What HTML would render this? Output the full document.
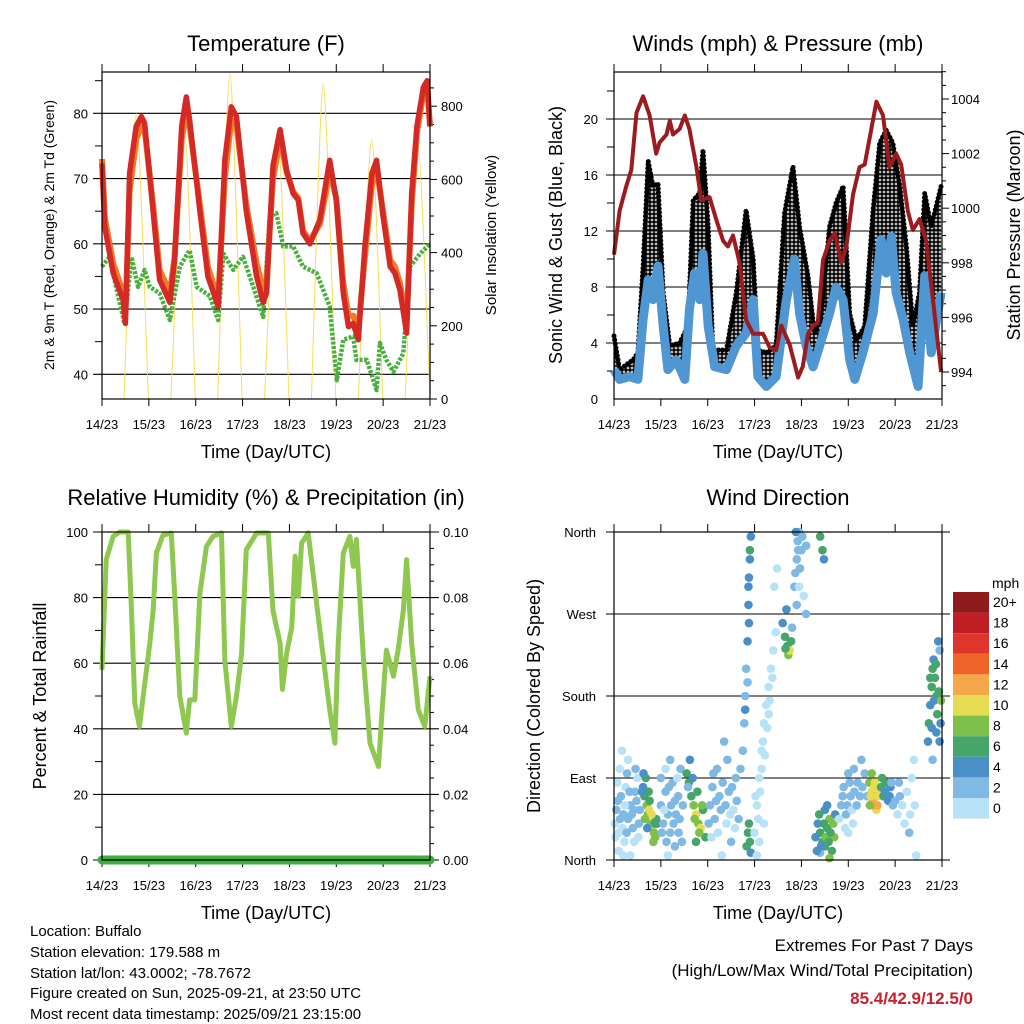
<!DOCTYPE html>
<html><head><meta charset="utf-8"><style>
html,body{margin:0;padding:0;background:#fff;}
svg{display:block;font-family:"Liberation Sans",sans-serif;}
</style></head><body>
<svg id="chart" width="1024" height="1024" viewBox="0 0 1024 1024">
<defs><pattern id="gustdots" width="4" height="4" patternUnits="userSpaceOnUse"><circle cx="2" cy="2" r="1.9" fill="#000"/></pattern></defs>
<text x="266" y="51" font-size="22" text-anchor="middle">Temperature (F)</text>
<text x="778" y="51" font-size="22" text-anchor="middle">Winds (mph) &amp; Pressure (mb)</text>
<text x="266" y="505" font-size="22" text-anchor="middle">Relative Humidity (%) &amp; Precipitation (in)</text>
<text x="778" y="505" font-size="22" text-anchor="middle">Wind Direction</text>
<text x="266" y="458" font-size="18" text-anchor="middle">Time (Day/UTC)</text>
<text x="778" y="458" font-size="18" text-anchor="middle">Time (Day/UTC)</text>
<text x="266" y="919" font-size="18" text-anchor="middle">Time (Day/UTC)</text>
<text x="778" y="919" font-size="18" text-anchor="middle">Time (Day/UTC)</text>
<text transform="translate(54,235) rotate(-90)" font-size="14" text-anchor="middle">2m &amp; 9m T (Red, Orange) &amp; 2m Td (Green)</text>
<text transform="translate(496,235) rotate(-90)" font-size="15" text-anchor="middle">Solar Insolation (Yellow)</text>
<text transform="translate(562,235) rotate(-90)" font-size="18" text-anchor="middle">Sonic Wind &amp; Gust (Blue, Black)</text>
<text transform="translate(1020,235) rotate(-90)" font-size="18" text-anchor="middle">Station Pressure (Maroon)</text>
<text transform="translate(46,696) rotate(-90)" font-size="18" text-anchor="middle">Percent &amp; Total Rainfall</text>
<text transform="translate(540,696) rotate(-90)" font-size="18" text-anchor="middle">Direction (Colored By Speed)</text>
<g font-size="15">
<text x="30" y="936">Location: Buffalo</text>
<text x="30" y="957">Station elevation: 179.588 m</text>
<text x="30" y="978">Station lat/lon: 43.0002; -78.7672</text>
<text x="30" y="998">Figure created on Sun, 2025-09-21, at 23:50 UTC</text>
<text x="30" y="1019">Most recent data timestamp: 2025/09/21 23:15:00</text>
</g>
<text x="973" y="951" font-size="17" text-anchor="end">Extremes For Past 7 Days</text>
<text x="973" y="976" font-size="17" text-anchor="end">(High/Low/Max Wind/Total Precipitation)</text>
<text x="973" y="1004" font-size="17" font-weight="bold" fill="#c8202a" text-anchor="end">85.4/42.9/12.5/0</text>
<text x="992" y="588" font-size="14">mph</text>
</svg>
<script>
// ---------- data ----------
const dayLabels=["14/23","15/23","16/23","17/23","18/23","19/23","20/23","21/23"];
const redT=[0,0.06,0.24,0.45,0.5,0.59,0.73,0.84,0.91,1.09,1.23,1.45,1.55,1.7,1.8,1.87,2.09,2.26,2.48,2.62,2.76,2.87,3.08,3.3,3.44,3.51,3.65,3.8,3.94,4.08,4.19,4.29,4.44,4.65,4.86,5.0,5.15,5.26,5.36,5.47,5.61,5.76,5.86,6.0,6.15,6.25,6.36,6.5,6.61,6.72,6.86,6.94,7.0];
const redTemp=[72.3,62.6,55.5,51.4,47.8,70.8,78,79.5,78.5,65,54.5,51,57.5,78,82.5,79,65,55,50.4,72.8,81,79.5,65,55,51,52.5,72,77.5,71.3,67.7,66.7,61.6,60,63.7,72.8,66.7,52.4,47.3,47.8,45.3,59.6,70.8,72.8,64.2,56.5,55.5,52.9,46.3,67.7,78,84,85,78];
const orangeTemp=[73,64,57,52.5,49,68,76,78,77.5,66,56,52.5,58,76,80,78,66,56.5,51.5,70,79,78,66,57,53,54,70,76,71,68,67,62,60.5,63,71,67,54,49,49,47,58,69,71.5,65,57.5,56.5,54,48,66,77,83,84,78];
const dewT=[0,0.16,0.3,0.48,0.63,0.77,0.91,1.02,1.23,1.45,1.66,1.87,2.02,2.3,2.48,2.59,2.8,3.01,3.23,3.44,3.58,3.72,3.87,4.08,4.29,4.58,4.86,5.01,5.15,5.36,5.43,5.65,5.86,5.93,6.07,6.22,6.43,6.57,6.79,7];
const dewTemp=[56.5,58,53.4,47.8,58,53.4,56,53.4,52.4,48.3,56.5,59,53.4,52,48.3,58.5,56,58,53.4,48.8,64.2,64.7,59.6,59.6,56.5,55.5,50.4,39.1,45.3,45.8,42.2,42.2,37.6,44.8,42.2,40.4,43.2,56.5,58.5,60];
const solarRise=[0.47,1.47,2.47,3.47,4.47,5.47,6.47];
const solarPeakT=[0.73,1.77,2.73,3.76,4.72,5.76,6.75];
const solarPeak=[780,725,890,715,860,710,680];
const solarSet=[0.99,1.99,2.99,3.99,4.99,5.99,7.0];
const tempTicks=[40,50,60,70,80];
const solarTicks=[0,200,400,600,800];

const windT=[0,0.12,0.33,0.51,0.62,0.73,0.83,0.94,1.05,1.15,1.33,1.51,1.61,1.72,1.83,1.9,2.01,2.15,2.4,2.61,2.82,2.97,3.07,3.25,3.46,3.68,3.85,3.96,4.1,4.25,4.39,4.6,4.74,4.89,5.03,5.14,5.31,5.53,5.7,5.81,5.92,6.02,6.17,6.31,6.49,6.63,6.77,6.98];
const windSpeed=[2.1,1.4,1.6,1.4,5.7,8.5,7.1,9.5,5.2,2.1,2.8,1.4,6.4,9,7.1,10.4,5.2,2.3,2.1,3.8,4.7,7.1,1.6,0.9,1.6,7.1,10,6.1,3.8,2.3,3.8,6.1,8,7.1,2.8,1.4,3.3,6.1,11.4,9,11.6,7.6,5.7,3.3,0.9,8.8,3.3,7.6];
const gustT=[0,0.12,0.41,0.51,0.62,0.73,0.83,0.94,1.05,1.19,1.4,1.58,1.69,1.83,1.9,2.01,2.11,2.4,2.61,2.82,2.97,3.07,3.25,3.46,3.64,3.82,3.96,4.14,4.28,4.42,4.6,4.74,4.89,5.03,5.17,5.35,5.53,5.67,5.81,5.95,6.1,6.24,6.38,6.52,6.63,6.77,6.98];
const gustSpeed=[4.5,2.1,2.8,3.3,9.5,17,15.2,15.4,7.6,3.8,4,5.2,14.2,14.7,17.8,12.3,3.5,3.5,7.6,13.5,10,3.5,3.3,3.8,13.3,16.6,12.3,8.8,4.7,5.7,12.3,14,15.2,6.1,4.2,5.2,13.5,18.3,19.2,18.3,15.2,10.9,5.2,7.6,14.7,12.3,15.2];
const presT=[0,0.12,0.26,0.37,0.48,0.62,0.76,0.9,0.97,1.12,1.19,1.26,1.4,1.51,1.61,1.76,1.86,2.04,2.18,2.33,2.43,2.54,2.68,2.82,2.97,3.18,3.32,3.46,3.57,3.75,3.93,4.03,4.14,4.25,4.35,4.46,4.6,4.71,4.85,4.96,5.1,5.24,5.35,5.46,5.6,5.74,5.88,6.02,6.13,6.27,6.38,6.52,6.66,6.81,6.98];
const presMb=[998.3,999.9,1000.8,1001.4,1003.5,1004.1,1003.4,1002,1002.4,1002.7,1003.2,1002.7,1002.9,1003.4,1002.9,1001.5,1000.3,1000.4,999.6,998.8,998.6,999,998,995.9,995.4,995.4,994.9,994.8,995.7,995,993.8,994.2,995.4,995.7,995.8,998.1,998.8,999.1,998,998.6,1000.5,1001.5,1001.6,1002.6,1003.9,1003.4,1001.5,1002,1001.6,999.9,999.2,999.6,998.8,996.6,994];
const windTicks=[0,4,8,12,16,20];
const presTicks=[994,996,998,1000,1002,1004];

const rhT=[0,0.09,0.24,0.38,0.56,0.63,0.7,0.8,0.88,1.02,1.09,1.16,1.3,1.48,1.55,1.66,1.8,1.87,1.98,2.09,2.23,2.37,2.55,2.62,2.76,2.87,2.98,3.08,3.3,3.55,3.65,3.8,3.85,3.94,4.05,4.12,4.19,4.26,4.4,4.58,4.72,4.86,4.97,5.04,5.15,5.29,5.36,5.43,5.58,5.72,5.9,5.97,6.07,6.22,6.32,6.43,6.5,6.61,6.75,6.89,7];
const rhPct=[58,91.6,98.7,100,100,76,47.8,40.7,50,66,76,93.6,99,99.7,81.4,50,38.7,48.8,48.8,81.4,95.6,98.7,99.7,61,40.7,50,63,94.6,99.7,99.7,76,66,52,63,71,92.6,80.4,96.6,99.7,78.3,62,45.8,35.6,66,93.6,98.7,89.5,97.7,61,35.6,28.5,43.7,64,56,64,76,91.6,66,45.8,40.7,56];
const precipT=[0,7];
const precipIn=[0,0];
const rhTicks=[0,20,40,60,80,100];
const precipTicks=["0.00","0.02","0.04","0.06","0.08","0.10"];

const dirLabels=["North","East","South","West","North"];
const dirPoints=[[0.02,40,1],[0.05,55,2],[0.1,30,1],[0.15,70,2],[0.2,50,2],[0.25,80,1],[0.3,45,2],[0.35,60,2],[0.4,35,3],[0.45,75,2],[0.5,90,1],[0.12,100,0],[0.3,110,0],[0.1,10,1],[0.35,5,1],[0.08,65,2],[0.22,20,1],[0.42,55,2],
[0.03,25,0],[0.07,85,1],[0.13,45,2],[0.18,35,0],[0.23,60,1],[0.27,30,2],[0.33,75,3],[0.38,50,2],[0.43,20,1],[0.48,65,2],[0.53,40,3],[0.55,55,2],[0.17,120,0],[0.28,95,2],[0.46,100,3],[0.52,25,1],[0.2,5,0],
[0.62,80,5],[0.65,70,7],[0.7,60,8],[0.72,50,9],[0.75,55,10],[0.78,40,9],[0.82,35,10],[0.85,30,8],[0.88,25,9],[0.9,45,6],[0.68,90,6],[0.76,65,7],[0.8,50,10],[0.6,75,4],[0.92,40,4],
[0.66,45,8],[0.74,75,6],[0.84,20,9],[0.87,40,7],[0.71,35,5],[0.63,95,4],
[1.0,60,2],[1.05,40,3],[1.1,75,2],[1.15,50,3],[1.2,30,2],[1.25,85,2],[1.3,65,3],[1.35,90,1],[1.4,45,2],[1.45,20,3],[1.1,100,1],[1.3,15,2],[1.2,110,2],
[1.02,30,2],[1.07,55,1],[1.12,20,3],[1.17,80,2],[1.22,60,2],[1.27,40,3],[1.32,50,2],[1.37,70,2],[1.42,100,3],[1.47,60,2],[1.0,90,2],[1.15,5,1],[1.38,30,2],
[1.55,95,6],[1.6,85,7],[1.65,70,6],[1.7,60,8],[1.75,50,10],[1.8,40,9],[1.85,35,10],[1.9,55,7],[1.95,25,6],[1.62,110,5],[1.75,20,7],[1.58,80,3],[1.68,90,4],
[1.72,45,9],[1.82,30,8],[1.88,60,9],[1.78,75,6],
[2.05,60,3],[2.1,80,2],[2.15,45,3],[2.2,100,2],[2.25,70,3],[2.35,130,2],[2.4,40,1],[2.5,20,2],[2.6,90,2],[2.3,5,1],[2.45,75,2],[2.55,55,1],
[2.02,40,2],[2.08,25,1],[2.12,95,2],[2.18,65,2],[2.22,30,1],[2.28,55,2],[2.32,85,2],[2.38,60,3],[2.42,110,2],[2.48,50,1],[2.52,80,2],[2.58,35,1],[2.62,65,2],[2.66,45,2],[2.7,100,2],
[2.75,120,3],[2.78,150,3],[2.8,180,2],[2.82,210,3],[2.85,240,4],[2.87,280,4],[2.88,310,4],[2.9,340,6],[2.92,355,5],[2.85,195,3],[2.8,165,4],[2.88,260,4],[2.9,330,4],[2.87,300,4],
[2.83,15,6],[2.86,30,7],[2.88,40,6],[2.9,20,6],[2.92,8,4],
[3.0,30,1],[3.05,60,1],[3.1,90,1],[3.15,120,1],[3.2,150,0],[3.25,170,1],[3.3,190,1],[3.35,210,1],[3.4,230,1],[3.45,250,1],[3.15,100,0],[3.3,160,0],[3.05,5,0],[3.2,40,1],
[3.08,45,0],[3.12,75,0],[3.18,130,1],[3.22,115,0],[3.27,145,0],[3.32,175,1],[3.38,200,0],[3.42,300,1],[3.48,320,0],[3.1,20,0],[3.02,70,1],
[3.6,260,4],[3.65,245,6],[3.7,235,7],[3.72,225,8],[3.75,230,10],[3.78,240,6],[3.8,255,2],[3.68,275,4],[3.66,232,6],
[3.85,300,2],[3.9,330,2],[3.92,350,3],[3.95,360,3],[4.0,340,2],[4.05,290,1],[4.1,270,2],[3.9,280,2],[4.1,345,2],[3.88,360,4],
[3.87,315,2],[3.93,340,2],[3.97,320,3],[4.02,355,2],[3.95,300,1],
[4.4,355,6],[4.45,340,6],[4.48,330,4],
[4.35,40,5],[4.4,30,6],[4.45,20,7],[4.5,15,6],[4.55,35,7],[4.6,45,8],[4.65,10,7],[4.7,25,8],[4.5,55,4],[4.4,8,3],[4.6,2,8],[4.3,25,4],[4.55,60,4],
[4.38,50,6],[4.42,15,5],[4.48,40,7],[4.52,25,8],[4.58,20,6],[4.62,30,7],[4.68,40,8],[4.33,10,4],[4.72,50,4],
[4.85,60,2],[4.9,80,3],[4.95,50,2],[5.0,95,2],[5.05,70,2],[5.1,40,1],[5.2,85,3],[5.0,30,0],
[4.8,45,1],[4.88,70,2],[4.93,35,1],[4.98,60,2],[5.03,85,2],[5.08,55,1],[5.13,75,2],[5.18,60,2],[5.25,70,2],[5.3,80,2],[5.35,95,3],[5.4,70,2],[5.12,100,3],[5.28,110,3],
[5.45,85,9],[5.5,75,11],[5.52,65,12],[5.55,80,10],[5.58,70,13],[5.6,55,11],[5.62,60,12],[5.5,95,8],[5.65,75,10],
[5.48,70,10],[5.54,60,12],[5.57,85,10],[5.63,70,11],[5.46,60,9],
[5.7,80,6],[5.75,70,7],[5.8,85,6],[5.85,65,4],[5.9,80,4],[5.95,60,2],
[5.72,90,7],[5.78,75,4],[5.88,70,4],[5.92,85,3],
[6.05,50,1],[6.1,70,2],[6.2,40,1],[6.3,30,2],[6.35,90,1],[6.4,110,1],[6.45,5,0],
[6.0,65,2],[6.08,85,2],[6.15,60,1],[6.25,75,1],[6.32,50,1],[6.42,60,1],
[6.7,130,4],[6.72,150,6],[6.75,170,5],[6.78,190,6],[6.8,210,7],[6.82,220,5],[6.85,200,6],[6.88,180,7],[6.9,160,6],[6.92,240,4],[6.95,230,3],[6.88,140,4],[6.95,130,4],[6.8,110,3],
[6.75,200,6],[6.83,175,5],[6.87,215,6],[6.93,185,7],[6.98,175,8],[6.78,145,4],[6.97,150,4]];
const speedLabels=["20+","18","16","14","12","10","8","6","4","2","0"];
const speedColors=["#8e1a1a","#be1e24","#e0352a","#ef6429","#f5a84a","#e6dc52","#7fc04a","#45a56a","#4a8fc8","#7fb9e4","#b8e2f8"];

// ---------- helpers ----------
const svg=document.getElementById('chart');
const NS='http://www.w3.org/2000/svg';
function mk(tag,attrs,parent){const e=document.createElementNS(NS,tag);for(const k in attrs)e.setAttribute(k,attrs[k]);(parent||svg).appendChild(e);return e;}
const P1={x0:102,x1:430,y0:72,y1:399},P2={x0:614,x1:942,y0:72,y1:399},P3={x0:102,x1:430,y0:532,y1:860},P4={x0:614,x1:942,y0:532,y1:860};
function xs(p,t){return p.x0+t*(p.x1-p.x0)/7;}
const yTemp=v=>113.3+(80-v)*6.525;
const ySolar=v=>399-v*0.366;
const yWind=v=>399-v*14;
const yPres=v=>99+(1004-v)*27.3;
const yRH=v=>860-v*3.28;
const yPrecip=v=>860-v*3280;
const yDir=v=>860-v*328/360;
function pts(p,ts,vs,fy){return ts.map((t,i)=>xs(p,t).toFixed(1)+','+fy(vs[i]).toFixed(1)).join(' ');}

function frame(p,name){
  const g=mk('g',{});
  
  
  dayLabels.forEach((lab,i)=>{
    const x=xs(p,i);
    const t1=mk('line',{x1:x,x2:x,y1:p.y0-8,y2:p.y0,stroke:'#000','stroke-width':1},g);
    
    
    const t2=mk('line',{x1:x,x2:x,y1:p.y1,y2:p.y1+7,stroke:'#000','stroke-width':1},g);
    
    
    const tx=mk('text',{x:x,y:p.y1+30,'font-size':13,'text-anchor':'middle'},g);
    
    
    tx.textContent=lab;
  });
  return g;
}
function box(p){
  const r=mk('rect',{x:p.x0,y:p.y0,width:p.x1-p.x0,height:p.y1-p.y0,fill:'none',stroke:'#000','stroke-width':1.2});
  
  
}
function grid(p,vals,fy,left,right){
  vals.forEach(v=>{const y=fy(v);
    const l=mk('line',{x1:p.x0-left,x2:p.x1+right,y1:y,y2:y,stroke:'#000','stroke-width':1.1});
    
    });
}
function ticks(p,vals,fy,side,len){
  vals.forEach(v=>{const y=fy(v);const x=side<0?p.x0:p.x1;
    const l=mk('line',{x1:x,x2:x+side*len,y1:y,y2:y,stroke:'#000','stroke-width':1});
    
    });
}
function labels(vals,texts,fy,x,anchor){
  vals.forEach((v,i)=>{const t=mk('text',{x:x,y:fy(v)+5,'font-size':13,'text-anchor':anchor});
    
    
    t.textContent=texts[i];});
}

// ---------- Panel 1: temperature ----------
frame(P1,'temperature-x-axis');
grid(P1,tempTicks,yTemp,9,0);
ticks(P1,[45,55,65,75,85],yTemp,-1,7);
ticks(P1,solarTicks,ySolar,1,7);
ticks(P1,[50,100,150,250,300,350,450,500,550,650,700,750,850],ySolar,1,4);
labels(tempTicks,tempTicks.map(String),yTemp,88,'end');
labels(solarTicks,solarTicks.map(String),ySolar,441,'start');
solarPeak.forEach((pk,i)=>{
  const xr=xs(P1,solarRise[i]),xp=xs(P1,solarPeakT[i]),xe=xs(P1,solarSet[i]),yp=ySolar(pk),y0=ySolar(0);
  const d1=xp-xr,d2=xe-xp,h=y0-yp;
  const s=mk('path',{d:`M${xr},${y0} C${xr+0.45*d1},${y0-0.55*h} ${xp-0.2*d1},${yp} ${xp},${yp} C${xp+0.2*d2},${yp} ${xe-0.45*d2},${y0-0.55*h} ${xe},${y0}`,fill:'none',stroke:'#f7d94a','stroke-width':1,opacity:0.9});
  
  
});
const dew=mk('polyline',{points:pts(P1,dewT,dewTemp,yTemp),fill:'none',stroke:'#4cb040','stroke-width':4.5,'stroke-dasharray':'3 1.5','stroke-linejoin':'round'});


const org=mk('polyline',{points:pts(P1,redT,orangeTemp,yTemp),fill:'none',stroke:'#f07a2a','stroke-width':6,'stroke-linejoin':'round'});


const red=mk('polyline',{points:pts(P1,redT,redTemp,yTemp),fill:'none',stroke:'#d42a26','stroke-width':5.5,'stroke-linejoin':'round'});


box(P1);

// ---------- Panel 2: winds & pressure ----------
frame(P2,'wind-x-axis');
grid(P2,windTicks.slice(1),yWind,8,0);
ticks(P2,[2,6,10,14,18,22],yWind,-1,7);
ticks(P2,presTicks,yPres,1,7);
ticks(P2,[993.5,994.5,995,995.5,996.5,997,997.5,998.5,999,999.5,1000.5,1001,1001.5,1002.5,1003,1003.5,1004.5,1005],yPres,1,4);
labels(windTicks,windTicks.map(String),yWind,598,'end');
labels(presTicks,presTicks.map(String),yPres,951,'start');
const gustPoly=pts(P2,gustT,gustSpeed,yWind)+' '+pts(P2,windT.slice().reverse(),windSpeed.slice().reverse(),yWind);
const gf=mk('polygon',{points:gustPoly,fill:'url(#gustdots)'});


const gl=mk('polyline',{points:pts(P2,gustT,gustSpeed,yWind),fill:'none',stroke:'#000','stroke-width':5,'stroke-dasharray':'0 4','stroke-linecap':'round'});


const wl=mk('polyline',{points:pts(P2,windT,windSpeed,yWind),fill:'none',stroke:'#4f96d2','stroke-width':9,'stroke-linejoin':'round'});


const pl=mk('polyline',{points:pts(P2,presT,presMb,yPres),fill:'none',stroke:'#9b1b1e','stroke-width':4,'stroke-linejoin':'round'});


box(P2);

// ---------- Panel 3: RH & precip ----------
frame(P3,'rh-x-axis');
grid(P3,rhTicks,yRH,9,9);
ticks(P3,[10,30,50,70,90],yRH,-1,7);
ticks(P3,[5,10,15,25,30,35,45,50,55,65,70,75,85,90,95],yRH,1,4);
labels(rhTicks,rhTicks.map(String),yRH,88,'end');
labels(rhTicks,precipTicks,yRH,443,'start');
const rl=mk('polyline',{points:pts(P3,rhT,rhPct,yRH),fill:'none',stroke:'#8fc850','stroke-width':5,'stroke-linejoin':'round'});


const pr=mk('polyline',{points:pts(P3,precipT,precipIn,yPrecip),fill:'none',stroke:'#3ead3e','stroke-width':9,'stroke-linecap':'round'});


box(P3);

// ---------- Panel 4: wind direction ----------
frame(P4,'direction-x-axis');
grid(P4,[0,90,180,270,360],yDir,8,8);
labels([0,90,180,270,360],dirLabels,yDir,596,'end');
function speedColor(s){const idx=Math.min(10,Math.floor(s/2));return speedColors[10-idx];}
dirPoints.forEach(pt=>{
  const c=mk('circle',{cx:xs(P4,pt[0]),cy:yDir(pt[1]),r:4.3,fill:speedColor(pt[2])});
  
  
});
box(P4);
speedColors.forEach((col,i)=>{
  const r=mk('rect',{x:953,y:592+i*20.6,width:36,height:20.6,fill:col});
  
  
  const t=mk('text',{x:993,y:592+i*20.6+15,'font-size':14});
  
  
  t.textContent=speedLabels[i];
});
</script>
</body></html>
